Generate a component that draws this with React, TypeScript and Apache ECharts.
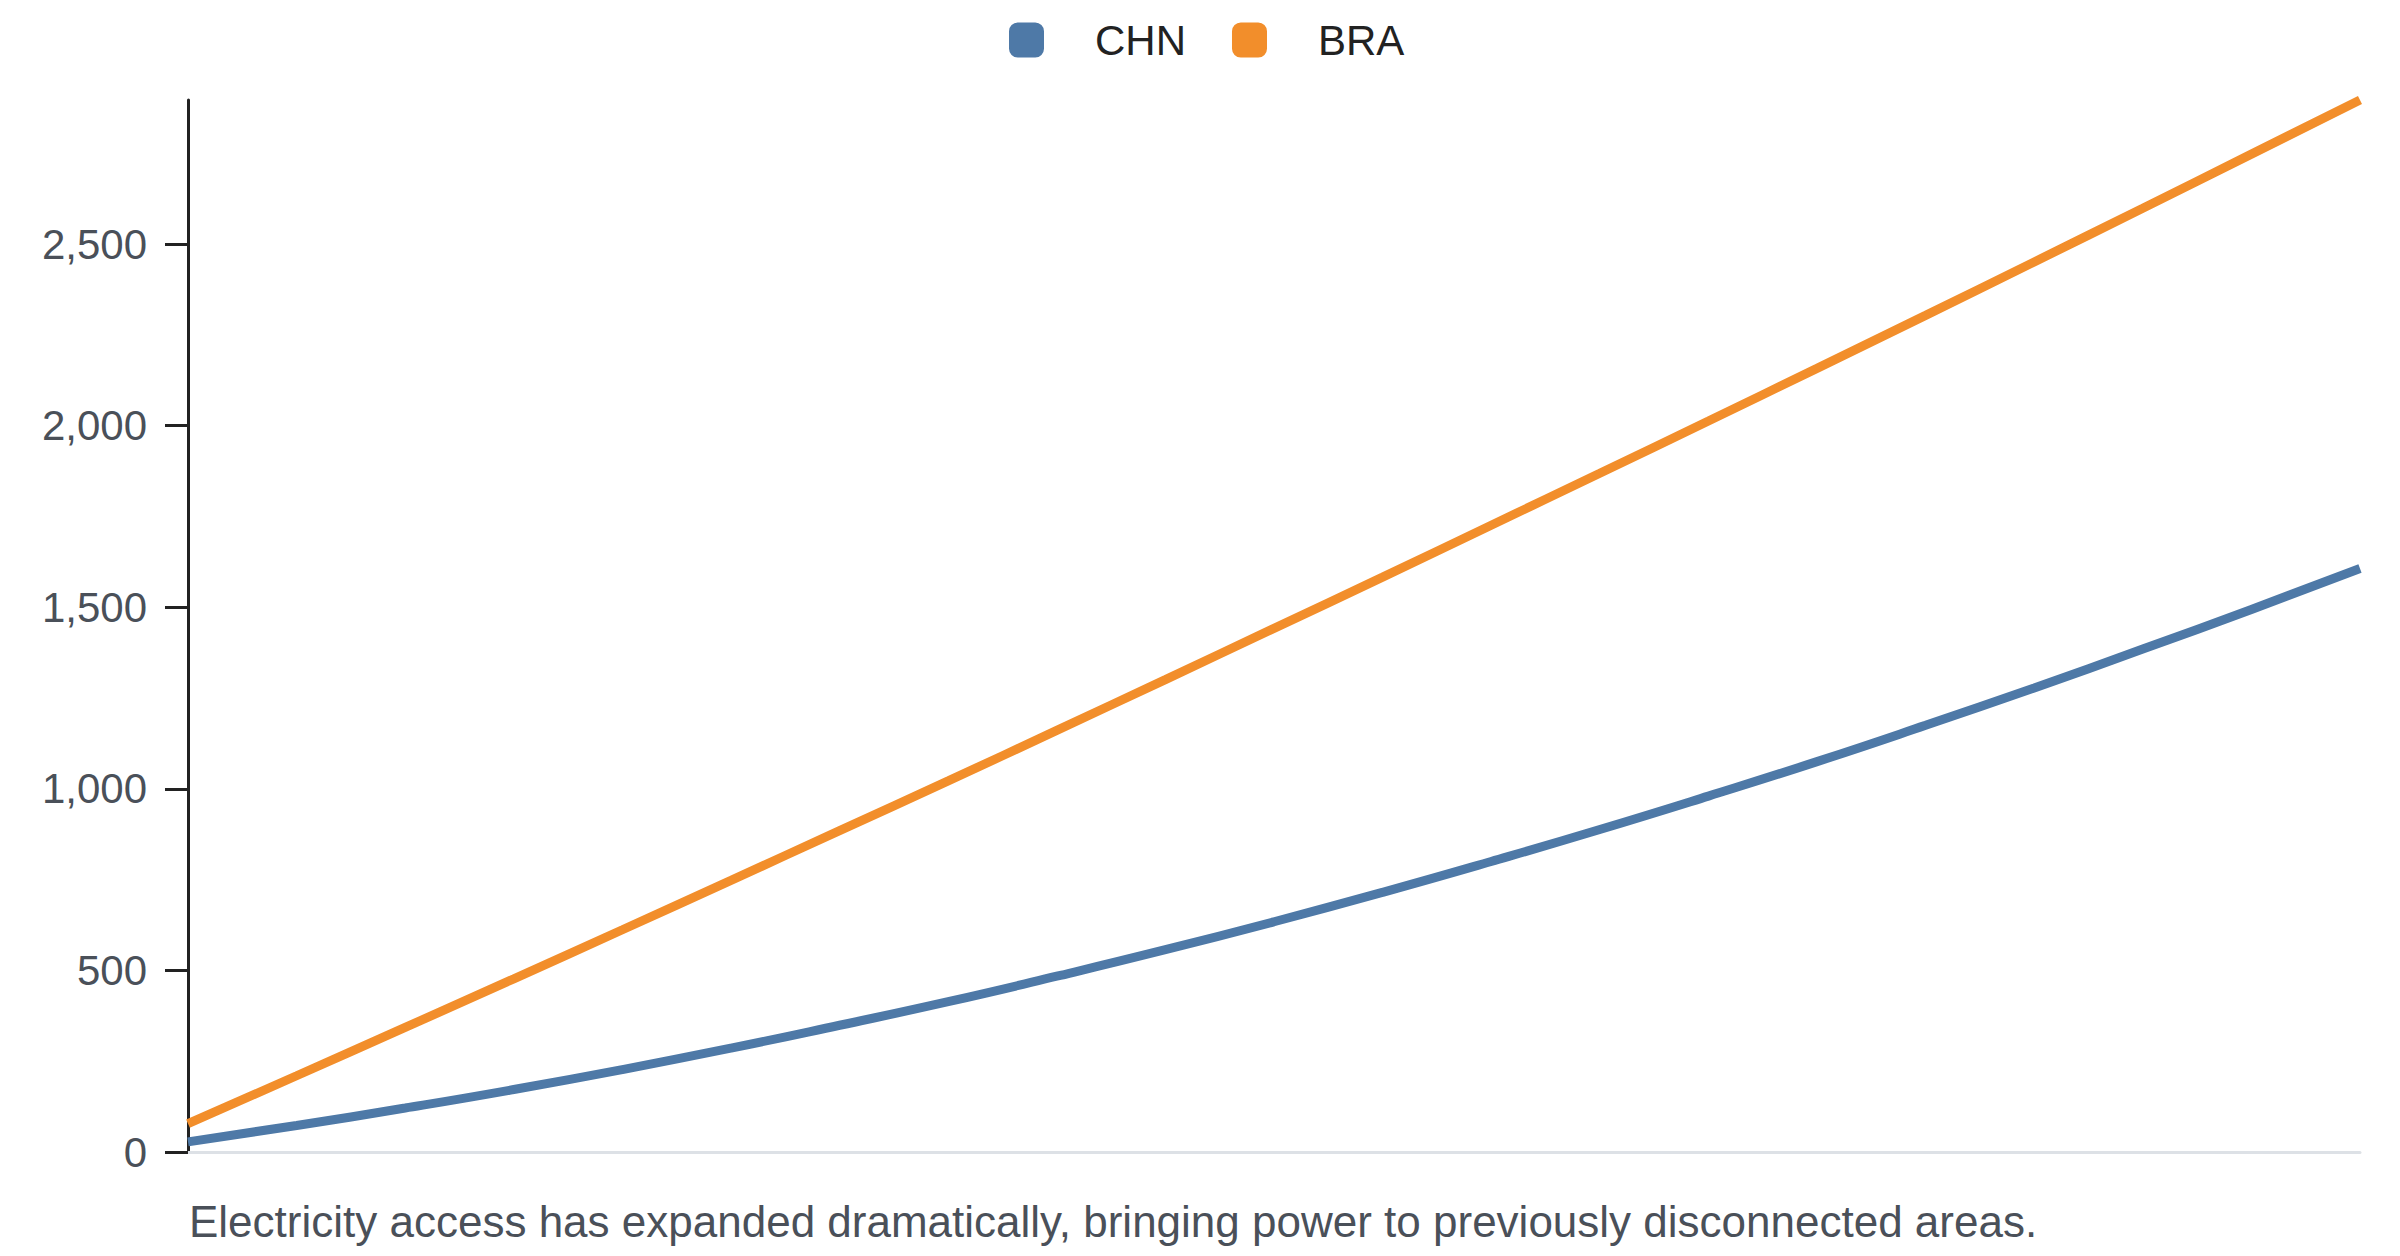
import React, { useEffect, useRef } from "react";
import * as echarts from "echarts";

const years = [
  "2000", "2001", "2002", "2003", "2004", "2005", "2006", "2007", "2008", "2009", "2010",
  "2011", "2012", "2013", "2014", "2015", "2016", "2017", "2018", "2019", "2020",
];
const chn = [28, 73, 121, 172, 227, 286, 349, 414, 484, 557, 634, 715, 800, 888, 980, 1075, 1175, 1278, 1385, 1494, 1607];
const bra = [78, 210, 343, 477, 612, 748, 885, 1022, 1161, 1301, 1442, 1583, 1726, 1869, 2013, 2158, 2304, 2451, 2599, 2748, 2897];
const yTicks = [0, 500, 1000, 1500, 2000, 2500];
const caption = "Electricity access has expanded dramatically, bringing power to previously disconnected areas.";

const FONT = "'Liberation Sans', Arial, Helvetica, sans-serif";

export default function App() {
  const ref = useRef<HTMLDivElement>(null);
  useEffect(() => {
    document.body.style.margin = "0";
    const chart = echarts.init(ref.current!, null, { renderer: "svg" });
    chart.setOption({
      animation: false,
      backgroundColor: "#ffffff",
      textStyle: { fontFamily: FONT },
      legend: {
        left: 1004,
        top: 14,
        itemWidth: 35,
        itemHeight: 35,
        itemGap: 46,
        icon: "roundRect",
        textStyle: { fontSize: 42, color: "#222222", fontFamily: FONT, padding: [0, 0, 0, 46] },
        data: ["CHN", "BRA"],
      },
      grid: { left: 188, right: 40, top: 100, bottom: 104, outerBoundsMode: "none" },
      xAxis: {
        type: "category",
        data: years,
        boundaryGap: false,
        axisLine: { show: true, lineStyle: { color: "#dde1e6", width: 3 } },
        axisTick: { show: false },
        axisLabel: { show: false },
        splitLine: { show: false },
      },
      yAxis: {
        type: "value",
        min: 0,
        max: "dataMax",
        axisLine: { show: true, lineStyle: { color: "#222222", width: 3 } },
        axisTick: { show: true, length: 23, lineStyle: { color: "#222222", width: 3 }, customValues: yTicks },
        axisLabel: {
          show: true,
          margin: 41,
          fontSize: 42,
          color: "#4a5059",
          fontFamily: FONT,
          customValues: yTicks,
          formatter: (v: number) => v.toLocaleString("en-US"),
        },
        splitLine: { show: false },
      },
      series: [
        {
          name: "CHN",
          type: "line",
          data: chn,
          smooth: true,
          symbol: "none",
          lineStyle: { color: "#4e79a7", width: 9 },
          itemStyle: { color: "#4e79a7" },
        },
        {
          name: "BRA",
          type: "line",
          data: bra,
          smooth: true,
          symbol: "none",
          lineStyle: { color: "#f28e2b", width: 9 },
          itemStyle: { color: "#f28e2b" },
        },
      ],
      graphic: [
        {
          type: "text",
          left: 189,
          top: 1199,
          style: {
            text: caption,
            fontSize: 44,
            fill: "#4a5059",
            fontFamily: FONT,
            verticalAlign: "middle",
          },
        },
      ],
    });
    return () => chart.dispose();
  }, []);
  return <div ref={ref} style={{ position: "fixed", left: 0, top: 0, width: 2400, height: 1256 }} />;
}
